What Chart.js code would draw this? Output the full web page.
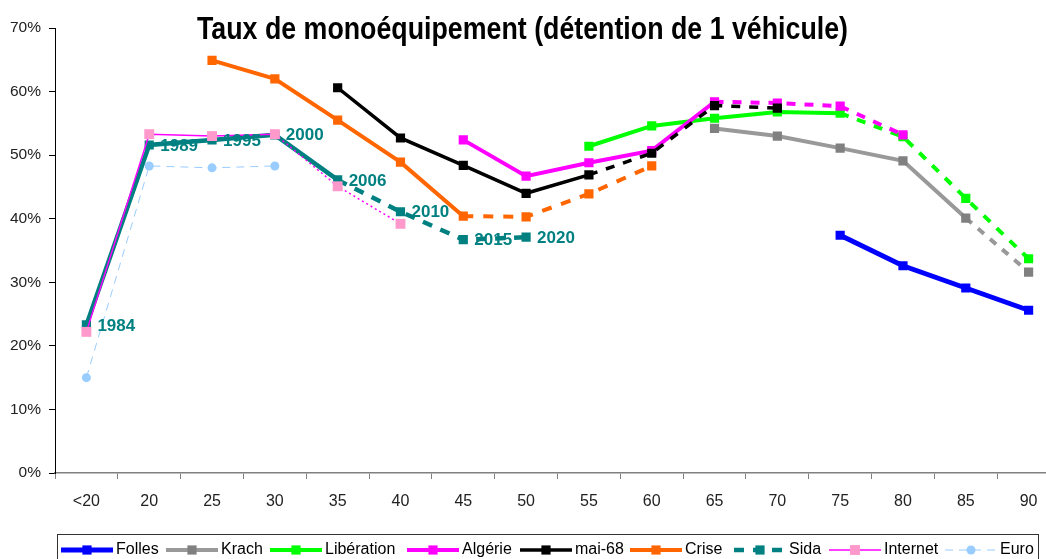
<!DOCTYPE html>
<html>
<head>
<meta charset="utf-8">
<script src="https://cdn.jsdelivr.net/npm/chart.js@4/dist/chart.umd.min.js"></script>
<style>
  html, body { margin: 0; padding: 0; background: #fff; overflow: hidden; }
  canvas { display: block; }
</style>
</head>
<body>
<canvas id="chart" width="1067" height="559"></canvas>
<script>
// age categories
const categories = ['<20', '20', '25', '30', '35', '40', '45', '50', '55', '60', '65', '70', '75', '80', '85', '90'];

// taux de monoequipement (%) par generation
const folles     = [null, null, null, null, null, null, null, null, null, null, null, null, 37.4, 32.6, 29.1, 25.6];
const krach      = [null, null, null, null, null, null, null, null, null, null, 54.2, 53.0, 51.1, 49.1, 40.1, 31.6];
const liberation = [null, null, null, null, null, null, null, null, 51.4, 54.6, 55.8, 56.8, 56.6, 52.9, 43.2, 33.7];
const algerie    = [null, null, null, null, null, null, 52.4, 46.7, 48.8, 50.7, 58.4, 58.2, 57.7, 53.2, null, null];
const mai68      = [null, null, null, null, 60.6, 52.7, 48.4, 44.0, 46.9, 50.3, 57.8, 57.4, null, null, null, null];
const crise      = [null, null, 64.9, 62.0, 55.5, 48.9, 40.4, 40.3, 43.9, 48.3, null, null, null, null, null, null];
const sida       = [23.3, 51.6, 52.4, 53.2, 46.1, 41.1, 36.7, 37.1, null, null, null, null, null, null, null, null];
const internet   = [22.2, 53.3, 53.0, 53.3, 45.1, 39.2, null, null, null, null, null, null, null, null, null, null];
const euro       = [15.0, 48.3, 48.0, 48.3, null, null, null, null, null, null, null, null, null, null, null, null];

// years written next to the Sida points
const sidaYears = ['1984', '1989', '1995', '2000', '2006', '2010', '2015', '2020'];

// index of the first projected (dashed) segment of each series
const projectedFrom = { Folles: 99, Krach: 14, 'Libération': 12, 'Algérie': 10, 'mai-68': 8, Crise: 6, Sida: 4, Internet: 3, Euro: 0 };

const FONT = '"Liberation Sans", Arial, sans-serif';

function series(label, data, line, marker, width, dash, extra) {
    const from = projectedFrom[label];
    return Object.assign({
        label: label,
        data: data,
        borderColor: line,
        backgroundColor: marker,
        pointBackgroundColor: marker,
        pointBorderWidth: 0,
        pointStyle: 'rect',
        pointRadius: 6.5,
        borderWidth: width,
        tension: 0,
        spanGaps: false,
        segment: {
            borderDash: ctx => ctx.p0DataIndex >= from ? dash : []
        }
    }, extra || {});
}

const datasets = [
    series('Folles', folles, '#0000ff', '#0000ff', 5, []),
    series('Krach', krach, '#999999', '#808080', 4, [8, 8]),
    series('Libération', liberation, '#00ff00', '#00ff00', 4, [9, 9]),
    series('Algérie', algerie, '#ff00ff', '#ff00ff', 4, [9, 9]),
    series('mai-68', mai68, '#000000', '#000000', 3.5, [9, 9]),
    series('Crise', crise, '#ff6600', '#ff6600', 4, [10, 10]),
    series('Sida', sida, '#008080', '#008080', 4.5, [10, 9]),
    series('Internet', internet, '#ff00ff', '#ff99cc', 1.5, [2, 3], { pointRadius: 7 }),
    series('Euro', euro, '#99ccff', '#99ccff', 1, [8, 6], { pointStyle: 'circle', pointRadius: 4.5 })
];
// later series on top, like the original
datasets.forEach((d, i) => { d.order = datasets.length - i; });

const titlePlugin = {
    id: 'titlePlugin',
    afterDraw(chart) {
        const ctx = chart.ctx;
        const text = 'Taux de monoéquipement (détention de 1 véhicule)';
        ctx.save();
        ctx.font = 'bold 32px ' + FONT;
        ctx.fillStyle = '#000';
        ctx.textBaseline = 'middle';
        const w = ctx.measureText(text).width;
        const sx = 651 / w;
        ctx.translate(197, 30);
        ctx.scale(sx, 1);
        ctx.fillText(text, 0, 0);
        ctx.restore();
    }
};

const yearLabels = {
    id: 'yearLabels',
    afterDatasetsDraw(chart) {
        const ctx = chart.ctx;
        const idx = chart.data.datasets.findIndex(d => d.label === 'Sida');
        const meta = chart.getDatasetMeta(idx);
        ctx.save();
        ctx.font = 'bold 17px ' + FONT;
        ctx.fillStyle = '#008080';
        ctx.textBaseline = 'middle';
        ctx.textAlign = 'left';
        meta.data.forEach((pt, i) => {
            if (sidaYears[i] && !pt.skip) ctx.fillText(sidaYears[i], pt.x + 11, pt.y + 1);
        });
        ctx.restore();
    }
};

// excel-like legend box at the bottom
const legendBox = {
    id: 'legendBox',
    afterDraw(chart) {
        const ctx = chart.ctx;
        const xs = [61, 166, 270, 407, 520, 630, 734, 829, 945];
        const y = 550;
        ctx.save();
        ctx.strokeStyle = '#333';
        ctx.lineWidth = 1;
        ctx.strokeRect(57.5, 534.5, 981, 40);
        ctx.font = '16px ' + FONT;
        ctx.textBaseline = 'middle';
        chart.data.datasets.forEach((d, i) => {
            const x = xs[i];
            const len = d.label === 'Sida' ? 50 : 52;
            ctx.strokeStyle = d.borderColor;
            ctx.lineWidth = d.borderWidth;
            ctx.setLineDash(d.label === 'Sida' ? [10, 9] : d.label === 'Euro' ? [8, 6] : []);
            ctx.beginPath();
            ctx.moveTo(x, y);
            ctx.lineTo(x + len, y);
            ctx.stroke();
            ctx.setLineDash([]);
            ctx.fillStyle = d.pointBackgroundColor;
            const cx = x + 26;
            if (d.pointStyle === 'circle') {
                ctx.beginPath();
                ctx.arc(cx, y, 4.5, 0, Math.PI * 2);
                ctx.fill();
            } else {
                const s = d.pointRadius * Math.SQRT1_2;
                ctx.fillRect(cx - s, y - s, 2 * s, 2 * s);
            }
            ctx.fillStyle = '#000';
            ctx.fillText(d.label, x + 55, y);
        });
        ctx.restore();
    }
};

const ctx = document.getElementById('chart').getContext('2d');
new Chart(ctx, {
    type: 'line',
    data: {
        labels: categories,
        datasets: datasets
    },
    options: {
        responsive: false,
        animation: false,
        events: [],
        layout: {
            padding: { top: 28, left: 0, right: 0, bottom: 46 }
        },
        plugins: {
            legend: { display: false },
            title: { display: false },
            tooltip: { enabled: false }
        },
        scales: {
            x: {
                offset: true,
                afterFit: s => { s.height = 40; },
                grid: { drawOnChartArea: false, tickLength: 6, color: '#808080', offset: true },
                border: { color: '#808080', width: 1.5 },
                ticks: { color: '#222', font: { family: FONT, size: 16 }, padding: 13, maxRotation: 0, autoSkip: false }
            },
            y: {
                min: 0,
                max: 70,
                afterFit: s => { s.width = 55; },
                grid: { drawOnChartArea: false, tickLength: 6, color: '#000' },
                border: { color: '#000', width: 1 },
                ticks: {
                    stepSize: 10,
                    color: '#222',
                    padding: 8,
                    font: { family: FONT, size: 15.5 },
                    callback: v => v + '%'
                }
            }
        }
    },
    plugins: [titlePlugin, yearLabels, legendBox]
});
</script>
</body>
</html>
